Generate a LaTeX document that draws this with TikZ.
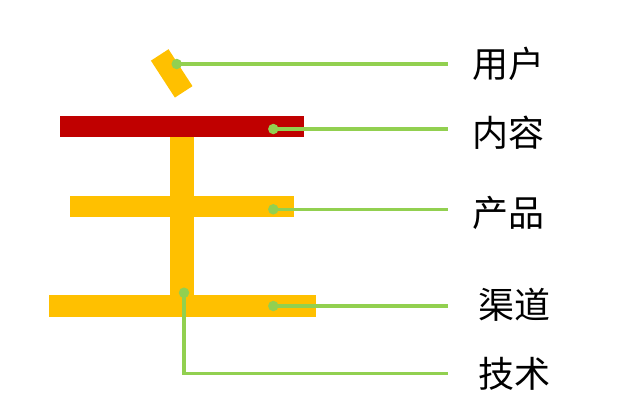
\documentclass[tikz,border=0pt]{standalone}
\usepackage{fontspec}
\usepackage{tikz}
\setmainfont{Noto Sans CJK SC}
\definecolor{barYellow}{RGB}{255,192,0}
\definecolor{barRed}{RGB}{192,0,0}
\definecolor{leaderGreen}{RGB}{146,208,80}
\tikzset{
    dot/.style={circle, fill=leaderGreen, inner sep=0pt, minimum size=10.5pt},
    leader/.style={leaderGreen, line width=3.3pt},
    wordbox/.style={anchor=west, inner xsep=24pt, inner ysep=0pt, text=black,
        font=\fontsize{36pt}{40pt}\selectfont}
}

\begin{document}
\begin{tikzpicture}[x=1pt,y=-1pt]
        \useasboundingbox (0,0) rectangle (640,402);

        % dot of the character (tilted)
        \node[fill=barYellow, minimum width=21pt, minimum height=44pt, inner sep=0pt, rotate=33] (tilt) at (171.7,73.4) {};
        % red bar
        \fill[barRed] (60,115.7) rectangle (304.3,136.7);
        % vertical bar
        \fill[barYellow] (170,136.7) rectangle (194,295.5);
        % middle bar
        \fill[barYellow] (70,196) rectangle (294.3,217.3);
        % bottom bar
        \fill[barYellow] (49,295) rectangle (316,316.7);

        % dots
        \node[dot] (d1) at (176.7,64) {};
        \node[dot] (d2) at (273.3,129) {};
        \node[dot] (d3) at (273.3,209.3) {};
        \node[dot] (d4) at (273.3,306) {};
        \node[dot] (d5) at (184,292.7) {};

        % labels
        \node[wordbox] (l1) at (448,63.7) {用户};
        \node[wordbox] (l2) at (448,132.7) {内容};
        \node[wordbox] (l3) at (448,213.3) {产品};
        \node[wordbox, inner xsep=30pt] (l4) at (448,305) {渠道};
        \node[wordbox, inner xsep=30pt] (l5) at (448,373.5) {技术};

        % leaders
        \draw[leader] (d1.center) -- (d1 -| l1.west);
        \draw[leader] (d2.center) -- (d2 -| l2.west);
        \draw[leader] (d3.center) -- (d3 -| l3.west);
        \draw[leader] (d4.center) -- (d4 -| l4.west);
        \draw[leader] (d5.center) |- (l5.west);

    \end{tikzpicture}
\end{document}
